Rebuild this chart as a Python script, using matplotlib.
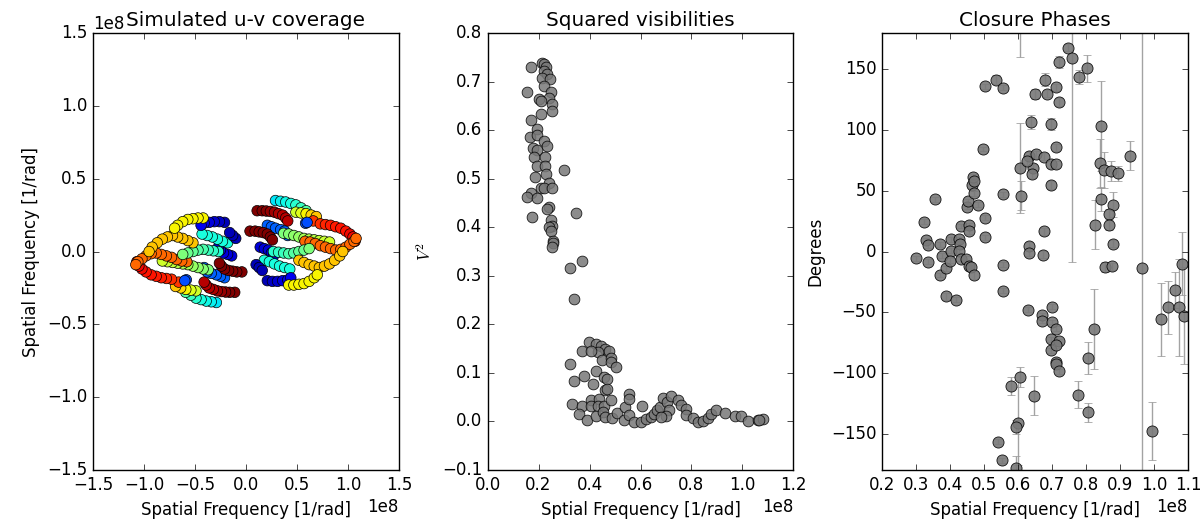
import numpy as np
import matplotlib
matplotlib.use("Agg")
import matplotlib.pyplot as plt

plt.style.use("classic")
plt.rcParams["figure.facecolor"] = "white"
plt.rcParams["savefig.facecolor"] = "white"

# ---- u-v coverage (units of 1e8 rad^-1), one half; the other half is (-u, -v) ----
uv_tracks = [
    # (u, v, colour value in jet)
    ([0.29, 0.34, 0.39, 0.44, 0.49, 0.54, 0.59], [0.35, 0.345, 0.34, 0.33, 0.32, 0.30, 0.28], [0.35, 0.36, 0.37, 0.38, 0.40, 0.42, 0.45]),
    ([0.49, 0.54, 0.59, 0.64, 0.69], [0.27, 0.265, 0.26, 0.25, 0.24], [0.60, 0.62, 0.65, 0.68, 0.70]),
    ([0.66, 0.73, 0.78, 0.83, 0.88, 0.93, 0.98, 1.02, 1.05, 1.07], [0.21, 0.19, 0.185, 0.18, 0.17, 0.16, 0.14, 0.12, 0.10, 0.07], [0.85, 0.86, 0.87, 0.88, 0.88, 0.89, 0.89, 0.90, 0.90, 0.90]),
    ([0.11, 0.16, 0.20, 0.24, 0.28, 0.32, 0.36, 0.39, 0.41], [0.28, 0.28, 0.278, 0.275, 0.27, 0.26, 0.25, 0.23, 0.21], [1.0, 1.0, 0.99, 0.98, 0.97, 0.96, 0.95, 0.95, 0.95]),
    ([0.21, 0.25, 0.29, 0.34, 0.38, 0.41], [0.18, 0.17, 0.16, 0.15, 0.14, 0.11], [0.22, 0.22, 0.22, 0.22, 0.22, 0.22]),
    ([0.585, 0.60], [0.194, 0.20], [0.20, 0.20]),
    ([0.04, 0.09, 0.13, 0.17, 0.21, 0.24, 0.26], [0.14, 0.14, 0.135, 0.13, 0.12, 0.10, 0.08], [1.0, 1.0, 1.0, 1.0, 1.0, 1.0, 1.0]),
    ([0.37, 0.42, 0.47, 0.52, 0.57, 0.62, 0.67, 0.72, 0.77, 0.82], [0.125, 0.12, 0.11, 0.10, 0.09, 0.085, 0.08, 0.075, 0.07, 0.065], [0.50, 0.51, 0.52, 0.53, 0.55, 0.56, 0.57, 0.58, 0.59, 0.60]),
    ([0.58, 0.63, 0.68, 0.73, 0.78, 0.83, 0.88, 0.93, 0.98, 1.02, 1.06, 1.08], [0.07, 0.065, 0.055, 0.04, 0.03, 0.02, 0.01, 0.015, 0.03, 0.05, 0.07, 0.09], [0.80] * 12),
    ([0.14, 0.18, 0.22, 0.25, 0.27], [0.03, 0.02, 0.01, -0.01, -0.03], [0.08] * 5),
    ([0.27, 0.32, 0.37, 0.42, 0.47, 0.52, 0.57, 0.62], [0.00, -0.005, -0.01, -0.015, -0.01, 0.0, 0.01, 0.02], [0.40, 0.41, 0.42, 0.44, 0.45, 0.47, 0.48, 0.50]),
    ([0.18, 0.23, 0.28, 0.33, 0.38, 0.43], [-0.06, -0.07, -0.085, -0.10, -0.11, -0.12], [0.38] * 6),
    ([0.52, 0.57, 0.62, 0.67, 0.72, 0.77, 0.82, 0.87, 0.92, 0.95], [-0.06, -0.075, -0.09, -0.10, -0.11, -0.10, -0.085, -0.06, -0.03, 0.0], [0.70] * 10),
    ([0.10, 0.13, 0.16], [-0.09, -0.11, -0.13], [0.05] * 3),
    ([0.21, 0.26, 0.31, 0.36, 0.41, 0.44], [-0.20, -0.205, -0.205, -0.20, -0.195, -0.18], [0.05, 0.06, 0.07, 0.08, 0.09, 0.10]),
    ([0.42, 0.47, 0.52, 0.57, 0.62, 0.67, 0.70], [-0.23, -0.23, -0.225, -0.22, -0.205, -0.18, -0.16], [0.65] * 7),
]

# ---- squared visibilities ----
v2_freq = [0.169, 0.215, 0.222, 0.228, 0.222, 0.235, 0.215, 0.245, 0.222, 0.248, 0.153, 0.241, 0.202, 0.209,
           0.254, 0.254, 0.211, 0.172, 0.195, 0.167, 0.195, 0.222, 0.235, 0.180, 0.195, 0.182, 0.225, 0.195,
           0.225, 0.228, 0.185, 0.300, 0.241, 0.208, 0.222, 0.251, 0.169, 0.153, 0.195, 0.241, 0.235, 0.176,
           0.347, 0.248, 0.254, 0.241, 0.248, 0.256, 0.258, 0.254, 0.372, 0.324,
           0.340, 0.324, 0.340, 0.379, 0.412, 0.372, 0.399, 0.425, 0.445, 0.460, 0.477, 0.432, 0.405, 0.447,
           0.484, 0.485, 0.504, 0.425, 0.458, 0.468, 0.460, 0.470, 0.333, 0.372, 0.405, 0.438, 0.405, 0.432,
           0.455, 0.484, 0.359, 0.392, 0.425, 0.451, 0.460, 0.490, 0.507, 0.536, 0.539, 0.556, 0.556, 0.556,
           0.576, 0.602, 0.605, 0.622, 0.641, 0.654, 0.665, 0.678, 0.687, 0.704, 0.720, 0.713, 0.700, 0.681,
           0.749, 0.759, 0.779, 0.779, 0.805, 0.825, 0.845, 0.864, 0.875, 0.897, 0.930, 0.969, 0.993, 1.022,
           1.061, 1.081, 1.065]
v2_vals = [0.729, 0.739, 0.736, 0.729, 0.722, 0.715, 0.708, 0.705, 0.691, 0.678, 0.678, 0.667, 0.664, 0.660,
           0.654, 0.640, 0.633, 0.621, 0.602, 0.586, 0.590, 0.578, 0.568, 0.564, 0.560, 0.545, 0.545, 0.527,
           0.527, 0.510, 0.503, 0.518, 0.492, 0.481, 0.481, 0.481, 0.471, 0.463, 0.461, 0.441, 0.437, 0.422,
           0.429, 0.414, 0.403, 0.401, 0.393, 0.371, 0.367, 0.360, 0.331, 0.316,
           0.252, 0.119, 0.084, 0.093, 0.078, 0.145, 0.163, 0.160, 0.156, 0.150, 0.145, 0.143, 0.145, 0.127,
           0.131, 0.122, 0.113, 0.104, 0.091, 0.088, 0.064, 0.066, 0.036, 0.031, 0.045, 0.047, 0.031, 0.031,
           0.031, 0.045, 0.016, 0.002, 0.012, 0.019, 0.009, 0.008, 0.017, 0.003, 0.029, 0.057, 0.047, 0.013,
           -0.001, -0.001, 0.031, 0.006, 0.009, 0.016, 0.023, 0.029, 0.049, 0.040, 0.053, 0.023, 0.012, 0.009,
           0.045, 0.033, 0.026, 0.014, 0.008, -0.001, 0.001, 0.008, 0.016, 0.024, 0.017, 0.012, 0.012, 0.001,
           0.003, 0.006, 0.002]

# ---- closure phases ----
cp_freq = [0.299, 0.324, 0.330, 0.336, 0.334, 0.356, 0.370, 0.376, 0.370, 0.388, 0.402, 0.402, 0.400, 0.427,
           0.429, 0.427, 0.432, 0.433, 0.457, 0.457, 0.449, 0.452, 0.465, 0.466, 0.469, 0.469, 0.481, 0.447,
           0.455, 0.462, 0.471, 0.498, 0.504, 0.504, 0.504, 0.534, 0.555, 0.555, 0.555, 0.607, 0.610, 0.607,
           0.632, 0.632, 0.632, 0.639, 0.649, 0.644, 0.642, 0.652, 0.626, 0.676, 0.679, 0.684, 0.676, 0.674,
           0.696, 0.696, 0.711, 0.696, 0.711, 0.711, 0.719, 0.721, 0.748, 0.759, 0.780, 0.804, 0.827, 0.844,
           0.841, 0.844, 0.853, 0.873, 0.893, 0.879, 0.869, 0.869, 0.879, 0.856, 0.876, 0.930, 0.965, 1.083,
           0.388, 0.417, 0.555, 0.541, 0.553, 0.595, 0.580, 0.605, 0.600, 0.595, 0.629, 0.669, 0.669, 0.701,
           0.701, 0.713, 0.698, 0.698, 0.721, 0.713, 0.713, 0.713, 0.721, 0.646, 0.777, 0.807, 0.807, 0.824,
           0.995, 1.021, 1.041, 1.061, 1.073, 1.088]
cp_vals = [-5.5, 24.4, 9.1, 5.0, -8.3, 43.1, 6.1, -3.3, -19.3, -13.8, 10.0, 0.8, -7.5, 10.0,
           6.4, 0.8, -6.0, 21.0, 21.5, 16.6, 36.8, 41.4, 54.7, 61.7, 58.0, 47.8, 38.7, -6.0,
           -11.6, -12.9, -19.3, 84.5, 27.7, 11.6, 136.2, 141.7, 134.8, 47.0, -11.0, 69.1, 45.9, 205.0,
           4.5, -1.1, 79.0, 106.6, 129.9, 69.1, 63.6, 80.1, 74.6, 78.2, 141.7, 129.9, 16.6, -2.7,
           105.0, 71.8, 71.8, 54.7, 85.7, 135.4, 123.2, 156.4, 168.0, 159.7, 143.7, 150.8, 22.1, 103.1,
           72.7, 43.1, 67.1, 66.3, 64.4, 38.7, 31.2, 22.1, 6.4, -12.9, -12.1, 79.0, -13.8, -10.2,
           -37.0, -39.8, -32.3, -156.6, -171.8, -178.7, -111.0, -103.3, -140.9, -144.7, -48.1, -52.5, -57.2, -45.3,
           -58.0, -63.5, -72.3, -81.2, -73.8, -77.3, -91.2, -93.0, -98.6, -118.8, -118.0, -132.6, -87.5, -64.0,
           -147.8, -55.8, -46.1, -31.5, -46.1, -53.0]
cp_errs = [2, 2, 2, 2, 2, 2, 2, 2, 2, 2, 2, 2, 2, 2,
           2, 2, 2, 2, 2, 2, 2, 2, 2, 2, 2, 2, 2, 2,
           2, 2, 3, 2, 2, 2, 2, 4, 2, 2, 2, 37, 12, 45,
           3, 3, 3, 6, 4, 3, 3, 3, 3, 3, 5, 3, 3, 3,
           5, 3, 3, 3, 3, 3, 3, 5, 3, 168, 6, 11, 20, 37,
           20, 10, 15, 8, 6, 10, 4, 4, 3, 4, 3, 12, 250, 26,
           3, 2, 2, 2, 2, 10, 7.5, 8, 35, 6, 2, 2, 2, 2,
           2, 2, 2, 2, 2, 2, 2, 2, 2, 16, 11, 8, 13, 33,
           24, 30, 22, 15, 40, 40]

fig = plt.figure(figsize=(12, 5.24), dpi=100)
fig.subplots_adjust(left=0.0775, right=0.99, bottom=0.103, top=0.937, wspace=0.29)

# u-v coverage
ax1 = fig.add_subplot(131)
for u, v, c in uv_tracks:
    u = np.array(u) * 1e8
    v = np.array(v) * 1e8
    ax1.scatter(u, v, c=c, cmap="jet", vmin=0, vmax=1, s=58, edgecolors="k", linewidths=0.5)
    ax1.scatter(-u, -v, c=c, cmap="jet", vmin=0, vmax=1, s=58, edgecolors="k", linewidths=0.5)
ax1.set_xlim(-1.5e8, 1.5e8)
ax1.set_ylim(-1.5e8, 1.5e8)
ax1.set_title("Simulated u-v coverage")
ax1.set_xlabel("Spatial Frequency [1/rad]")
ax1.set_ylabel("Spatial Frequency [1/rad]")

# squared visibilities
ax2 = fig.add_subplot(132)
ax2.scatter(np.array(v2_freq) * 1e8, v2_vals, s=60, c="0.47", edgecolors="k", linewidths=0.6, alpha=0.85)
ax2.set_xlim(0, 1.2e8)
ax2.set_ylim(-0.1, 0.8)
ax2.set_title("Squared visibilities")
ax2.set_xlabel("Sptial Frequency [1/rad]")
ax2.set_ylabel("$V^2$")

# closure phases
ax3 = fig.add_subplot(133)
ax3.errorbar(np.array(cp_freq) * 1e8, cp_vals, yerr=cp_errs, fmt="o", color="0.47", mec="k",
             mew=0.6, ms=8, ecolor="0.6", capsize=3, alpha=0.9)
ax3.set_xlim(0.2e8, 1.1e8)
ax3.set_ylim(-180, 180)
ax3.set_title("Closure Phases")
ax3.set_xlabel("Spatial Frequency [1/rad]")
ax3.set_ylabel("Degrees")

fig.savefig("out.png", dpi=100)
